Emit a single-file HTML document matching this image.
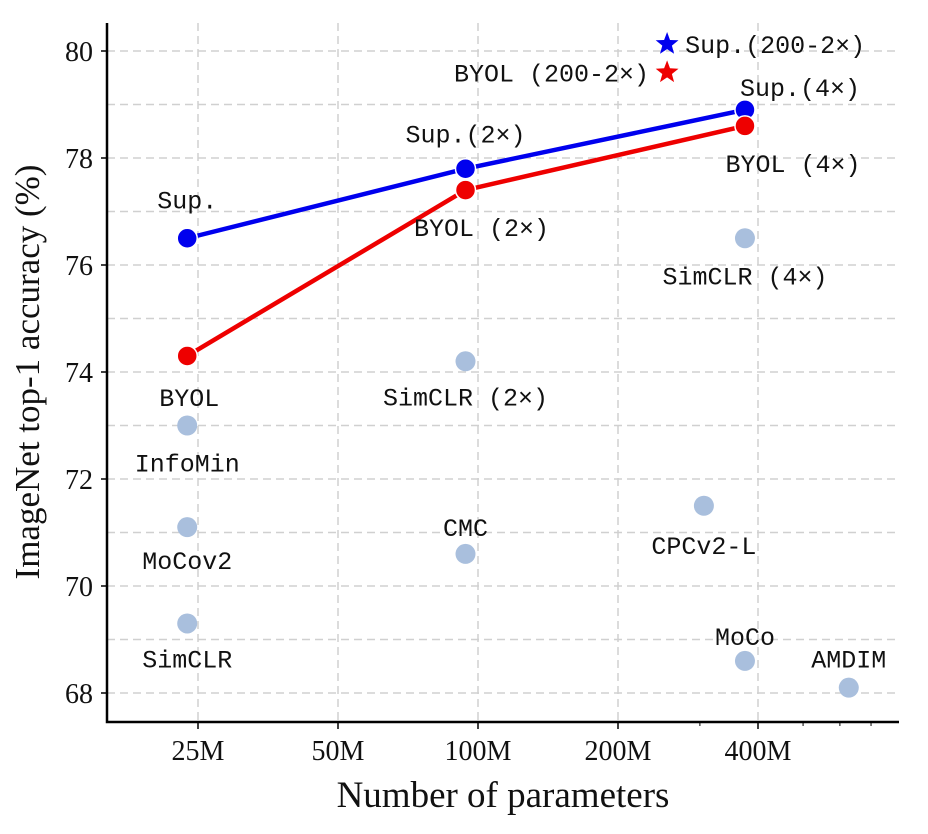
<!DOCTYPE html>
<html><head><meta charset="utf-8"><style>
body{margin:0;background:#fff}
svg{display:block}
.tk{font-family:"Liberation Serif",serif;font-size:28px;fill:#111}
.lb{font-family:"Liberation Mono",monospace;font-size:25px;fill:#111}
.ser{font-family:"Liberation Serif",serif}
</style></head><body>
<svg id="c" width="928" height="834" viewBox="0 0 928 834"></svg>
<script>
const yTicks=[68,70,72,74,76,78,80];
const xTicks=[25,50,100,200,400];
const xTickLabels=["25M","50M","100M","200M","400M"];
const xMinor=[300,500,600,700];
const supParams=[23.7,94,375];
const supAcc=[76.5,77.8,78.9];
const byolParams=[23.7,94,375];
const byolAcc=[74.3,77.4,78.6];
const otherNames=["SimCLR (4×)","SimCLR (2×)","InfoMin","MoCov2","SimCLR","CMC","CPCv2-L","MoCo","AMDIM"];
const otherParams=[375,94,23.7,23.7,23.7,94,306,375,627];
const otherAcc=[76.5,74.2,73.0,71.1,69.3,70.6,71.5,68.6,68.1];
const starParams=[255,255];
const starAcc=[80.13,79.6];
const supNames=["Sup.","Sup.(2×)","Sup.(4×)"];
const byolNames=["BYOL","BYOL (2×)","BYOL (4×)"];
// label layout offsets [dx,dy] (pixels)
const supOff=[[0,-30],[0,-26],[55,-14]];
const byolOff=[[2,50],[16,46],[48,46]];
const otherOff=[[0,46],[0,44],[0,46],[0,42],[0,44],[0,-18],[0,48],[0,-16],[0,-20]];

const L=107,R=899,T=23,B=722;
const X=v=>198+140*Math.log2(v/25);
const Y=v=>51+(80-v)*53.5;
const svg=document.getElementById('c');
const NS='http://www.w3.org/2000/svg';
function mk(t,a,p){const e=document.createElementNS(NS,t);for(const k in a)e.setAttribute(k,a[k]);(p||svg).appendChild(e);return e;}

for(let v=68;v<=80;v++){const g=mk('line',{x1:L,x2:R,y1:Y(v),y2:Y(v),stroke:'#d0d0d0','stroke-width':1.5,'stroke-dasharray':'8,5'});

}
xTicks.forEach(v=>{const g=mk('line',{x1:X(v),x2:X(v),y1:T,y2:B,stroke:'#d0d0d0','stroke-width':1.5,'stroke-dasharray':'8,5'});

});
const ax=mk('path',{d:`M${L},${T}V${B}H${R}`,fill:'none',stroke:'#000','stroke-width':2.5});


yTicks.forEach(v=>{mk('line',{x1:L-6,x2:L,y1:Y(v),y2:Y(v),stroke:'#000','stroke-width':1.5});
const t=mk('text',{x:L-14,y:Y(v)+10,'text-anchor':'end',class:'tk'});t.textContent=v;

});
xTicks.forEach((v,i)=>{mk('line',{x1:X(v),x2:X(v),y1:B,y2:B+7,stroke:'#000','stroke-width':1.5});
const t=mk('text',{x:X(v),y:B+38,'text-anchor':'middle',class:'tk'});t.textContent=xTickLabels[i];

});
xMinor.forEach(v=>{mk('line',{x1:X(v),x2:X(v),y1:B,y2:B+4,stroke:'#000','stroke-width':1});});
let t=mk('text',{x:503,y:807,'text-anchor':'middle',class:'ser','font-size':37,fill:'#111'});t.textContent='Number of parameters';


t=mk('text',{x:0,y:0,'text-anchor':'middle',class:'ser','font-size':35,fill:'#111',transform:'translate(39,372) rotate(-90)'});t.textContent='ImageNet top-1 accuracy (%)';



function label(txt,x,y,size,name){const e=mk('text',{x:x,y:y,'text-anchor':'middle',class:'lb','font-size':size});e.textContent=txt;

}
otherNames.forEach((n,i)=>{const c=mk('circle',{cx:X(otherParams[i]),cy:Y(otherAcc[i]),r:10,fill:'#a9bfdd'});


label(n,X(otherParams[i])+otherOff[i][0],Y(otherAcc[i])+otherOff[i][1],24,'label-other');});
function series(px,py,col,name,names,off,size){
const l=mk('polyline',{points:px.map((p,i)=>X(p)+','+Y(py[i])).join(' '),fill:'none',stroke:col,'stroke-width':4.5});


px.forEach((p,i)=>{const c=mk('circle',{cx:X(p),cy:Y(py[i]),r:10,fill:col,stroke:'#fff','stroke-width':1.5});


label(names[i],X(p)+off[i][0],Y(py[i])+off[i][1],size,name+'-label');});}
series(supParams,supAcc,'#0000ee','sup',supNames,supOff,26);
series(byolParams,byolAcc,'#ee0000','byol',byolNames,byolOff,29);
function star(cx,cy,r,col){let d='';for(let k=0;k<10;k++){const a=-Math.PI/2+k*Math.PI/5,rr=k%2?r*0.42:r;d+=(k?'L':'M')+(cx+rr*Math.cos(a)).toFixed(1)+','+(cy+rr*Math.sin(a)).toFixed(1);}return mk('path',{d:d+'Z',fill:col});}
let s=star(X(starParams[0]),Y(starAcc[0]),12,'#0000ee');


s=star(X(starParams[1]),Y(starAcc[1]),12,'#ee0000');


t=mk('text',{x:X(starParams[0])+18,y:Y(starAcc[0])+9,class:'lb','font-size':25});t.textContent='Sup.(200-2×)';


t=mk('text',{x:X(starParams[1])-18,y:Y(starAcc[1])+9,'text-anchor':'end',class:'lb','font-size':25});t.textContent='BYOL (200-2×)';


</script>
</body></html>
